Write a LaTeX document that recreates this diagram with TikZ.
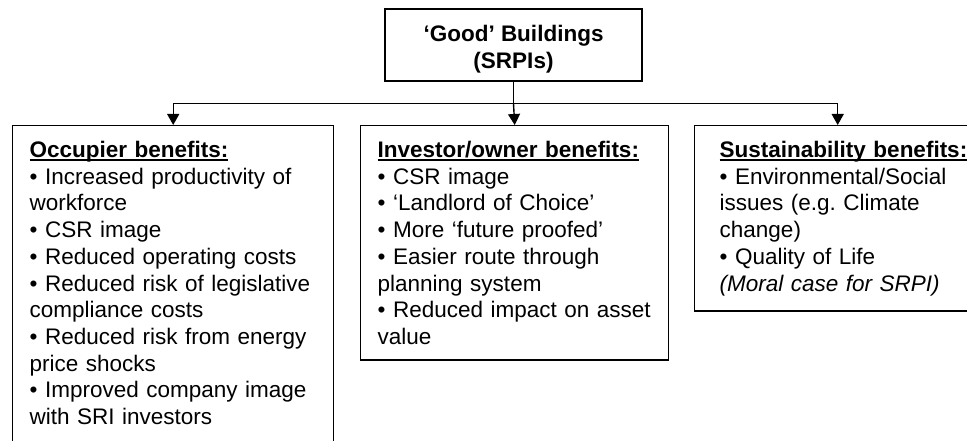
\documentclass[tikz,border=0pt]{standalone}
\usepackage{fontspec}
\setmainfont{Liberation Sans}
\usetikzlibrary{arrows.meta,positioning}
\frenchspacing

% underlined bold heading, rule set a little below the baseline
\newcommand{\benefithead}[1]{\setbox0\hbox{\bfseries #1}\rlap{\rule[-3.5pt]{\wd0}{1.7pt}}\box0}

\begin{document}
\begin{tikzpicture}[
    x=1pt, y=-1pt,
    topnode/.style={draw, line width=1.4pt, font=\fontsize{22.5}{27}\selectfont\bfseries, align=center, minimum width=257pt, minimum height=72pt, inner sep=0pt},
    boxnode/.style={draw, line width=1.4pt, anchor=north west, font=\fontsize{22.5}{26.7}\selectfont, align=left, inner xsep=17pt, inner ysep=15.5pt},
    linkline/.style={line width=1.4pt},
    linkarrow/.style={line width=1.4pt, -{Triangle[length=11pt,width=12pt]}}
]
\useasboundingbox (0,0) rectangle (967,441);
\clip (0,0) rectangle (967,441);

% Top node
\node[topnode] (good) at (513.5,45) {\rule{0pt}{24pt}‘Good’ Buildings\\(SRPIs)};

% Benefit boxes
\node[boxnode, text width=287pt] (occupier) at (12,125) {\benefithead{Occupier benefits:}\\
    • Increased productivity of\\
    workforce\\
    • CSR image\\
    • Reduced operating costs\\
    • Reduced risk of legislative\\
    compliance costs\\
    • Reduced risk from energy\\
    price shocks\\
    • Improved company image\\
    with SRI investors\rule[-40pt]{0pt}{40pt}};

\node[boxnode, text width=274pt] (investor) at (360,125) {\benefithead{Investor/owner benefits:}\\
    • CSR image\\
    • ‘Landlord of Choice’\\
    • More ‘future proofed’\\
    • Easier route through\\
    planning system\\
    • Reduced impact on asset\\
    value};

\node[boxnode, inner xsep=25pt, text width=236pt] (sustain) at (694,125) {\benefithead{Sustainability benefits:}\\
    • Environmental/Social\\
    issues (e.g. Climate\\
    change)\\
    • Quality of Life\\
    \textit{(Moral case for SRPI)}};

% Connectors
\draw[linkline] (good.south) -- ++(0,22) coordinate (bus);
\draw[linkarrow] (bus) -- (investor.north);
\draw[linkarrow] (bus) -| (occupier.north);
\draw[linkarrow] (bus) -| (sustain.north);

\end{tikzpicture}
\end{document}
